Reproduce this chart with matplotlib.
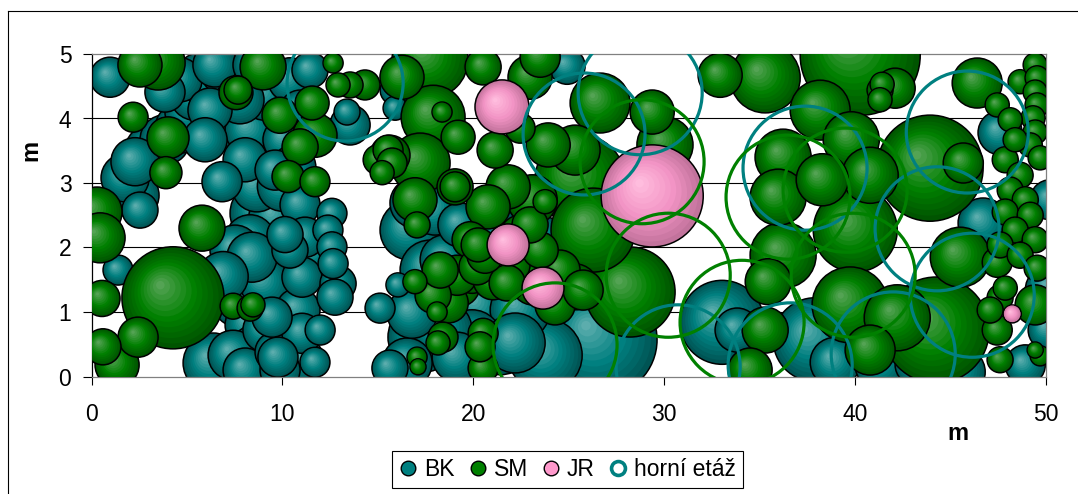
import numpy as np
import matplotlib
matplotlib.use("Agg")
import matplotlib.pyplot as plt
from matplotlib.lines import Line2D

plt.rcParams['font.family'] = ['Liberation Sans', 'DejaVu Sans']

# Tree positions on the plot (m) and crown diameters (m)
bk_x = [0.97, 2.28, 1.76, 2.28, 3.07, 3.85, 4.64, 5.16, 5.42, 5.69,
        4.64, 3.85, 6.47, 6.21, 5.95, 2.54, 1.39, 7.00, 7.78, 7.26,
        8.31, 8.05, 6.84, 8.67, 8.99, 8.31, 9.62, 10.14, 10.93, 10.40,
        9.09, 8.57, 11.45, 13.39, 10.93, 7.52, 8.05, 7.78, 8.31, 8.57,
        8.05, 9.09, 9.62, 6.37, 9.88, 7.42, 12.60, 12.39, 12.60, 12.66,
        12.92, 12.76, 11.56, 11.19, 11.03, 10.82, 11.03, 11.03, 9.77, 9.46,
        9.09, 8.41, 11.98, 11.71, 10.40, 10.14, 15.12, 15.64, 16.06, 17.37,
        18.63, 16.54, 19.16, 20.36, 21.41, 22.46, 18.53, 19.94, 18.37, 16.80,
        22.20, 16.95, 18.00, 16.69, 17.74, 19.31, 13.55, 15.91, 15.91, 24.92,
        23.77, 26.65, 33.04, 33.83, 37.92, 38.97, 41.32, 43.42, 45.52, 43.16,
        47.61, 46.72, 50.24, 50.13, 50.24, 48.93, 23.51, 21.15,
        10.00, 9.70, 10.60, 6.90]
bk_y = [4.64, 2.81, 3.08, 3.33, 3.51, 3.67, 3.85, 4.10, 4.36, 4.63,
        4.60, 4.41, 4.83, 4.13, 3.67, 2.58, 1.65, 4.75, 4.29, 3.90,
        3.82, 3.36, 3.02, 2.94, 2.53, 2.12, 3.20, 3.67, 4.13, 4.60,
        4.36, 4.83, 4.75, 4.10, 2.66, 1.96, 1.57, 1.19, 0.80, 0.41,
        0.10, 0.72, 0.38, 0.21, 0.10, 0.33, 2.53, 2.27, 2.01, 1.75,
        1.44, 1.23, 1.91, 2.16, 1.54, 1.03, 0.67, 0.26, 0.30, 0.92,
        1.45, 1.85, 0.72, 0.22, 1.96, 2.20, 1.06, 0.13, 1.42, 0.61,
        0.83, 0.21, 0.30, 1.08, 0.57, 1.03, 1.81, 0.57, 0.72, 0.98,
        0.52, 2.69, 2.58, 2.27, 1.65, 2.35, 3.90, 4.44, 4.16, 4.81,
        0.33, 0.57, 0.84, 0.72, 0.57, 0.22, 0.18, 0.02, 0.07, 0.18,
        3.78, 2.38, 1.34, 0.72, 2.74, 0.18, 2.11, 2.35,
        2.95, 2.45, 3.25, 1.55]
bk_d = [2.10, 2.52, 2.52, 2.52, 2.62, 2.62, 2.62, 2.62, 2.62, 2.62,
        2.31, 2.10, 2.31, 2.31, 2.31, 1.89, 1.57, 2.62, 2.52, 2.62,
        2.62, 2.31, 2.10, 2.62, 3.46, 2.62, 2.10, 2.31, 2.10, 2.31,
        2.62, 2.31, 1.89, 1.36, 2.10, 2.62, 2.94, 2.94, 2.62, 2.62,
        2.31, 2.31, 2.10, 3.14, 2.10, 2.62, 1.57, 1.57, 1.57, 1.57,
        1.89, 1.89, 2.10, 2.10, 2.10, 2.31, 2.10, 2.31, 2.10, 2.10,
        2.62, 2.62, 1.57, 1.57, 1.89, 1.89, 1.57, 1.89, 1.26, 3.67,
        3.67, 2.62, 2.62, 3.14, 3.67, 3.14, 2.62, 3.14, 3.14, 2.62,
        3.14, 2.62, 2.62, 3.14, 3.14, 2.31, 2.10, 1.57, 1.26, 1.89,
        3.88, 5.97, 4.40, 2.31, 4.40, 2.62, 2.62, 3.14, 2.62, 2.10,
        2.31, 2.62, 2.62, 2.10, 2.10, 2.10, 2.62, 2.10,
        2.62, 2.94, 2.31, 2.62]

sm_x = [3.49, 2.54, 2.18, 4.01, 3.90, 0.29, 0.45, 0.55, 4.27, 5.79,
        7.42, 8.46, 8.31, 1.34, 2.44, 0.60, 8.99, 7.57, 7.68, 12.66,
        12.92, 11.56, 9.88, 11.71, 10.93, 10.30, 11.71, 14.33, 13.55, 16.27,
        15.02, 15.54, 15.75, 15.23, 17.74, 20.52, 17.90, 18.37, 19.21, 17.22,
        19.05, 19.05, 16.95, 17.06, 19.84, 19.94, 18.69, 18.11, 20.52, 20.52,
        18.16, 17.06, 17.11, 17.90, 19.16, 18.42, 20.36, 20.20, 21.04, 21.78,
        18.27, 19.21, 16.95, 20.26, 15.64, 22.98, 23.51, 22.46, 21.15, 21.83,
        23.93, 23.09, 23.77, 20.78, 22.46, 20.62, 23.51, 23.14, 24.29, 24.55,
        22.98, 21.93, 25.34, 25.76, 26.28, 28.22, 26.65, 29.38, 30.05, 25.34,
        25.60, 32.94, 35.30, 40.28, 38.18, 41.32, 41.43, 41.32, 36.24, 35.98,
        38.29, 39.81, 40.02, 40.80, 43.94, 45.68, 36.24, 35.46, 35.30, 34.51,
        39.75, 45.52, 44.26, 42.22, 40.80, 46.41, 47.46, 42.11, 48.66, 49.45,
        49.55, 49.45, 49.55, 49.34, 49.45, 49.19, 49.71, 47.88, 48.66, 48.14,
        48.93, 47.88, 49.19, 48.40, 49.45, 47.61, 48.66, 49.55, 47.61, 47.09,
        47.88, 49.45, 47.46, 47.61, 49.45, 49.71, 48.14, 48.40, 47.46]
sm_y = [4.86, 4.83, 4.02, 3.70, 3.16, 2.55, 2.15, 1.21, 1.22, 2.30,
        1.09, 1.11, 1.06, 0.18, 0.61, 0.46, 4.80, 4.40, 4.44, 4.86,
        4.52, 4.24, 4.05, 3.74, 3.56, 3.10, 3.02, 4.52, 4.52, 4.64,
        3.36, 3.51, 3.31, 3.16, 4.91, 4.80, 4.02, 4.10, 3.71, 3.31,
        2.94, 2.94, 2.74, 2.35, 2.12, 1.60, 1.14, 1.00, 0.67, 0.13,
        0.52, 0.30, 0.15, 1.26, 1.57, 0.61, 0.46, 1.70, 1.50, 1.45,
        1.65, 1.42, 1.47, 2.04, 3.43, 4.64, 4.95, 3.85, 3.51, 2.94,
        3.59, 2.74, 2.71, 2.63, 2.19, 1.88, 1.96, 1.45, 1.11, 1.65,
        2.35, 1.73, 1.39, 1.34, 2.27, 1.31, 4.24, 4.10, 3.59, 3.51,
        3.05, 4.67, 4.63, 4.98, 4.13, 4.44, 4.53, 4.29, 3.40, 2.78,
        3.05, 3.67, 2.27, 3.12, 3.23, 3.31, 1.88, 1.47, 0.72, 0.10,
        1.11, 1.85, 0.72, 0.91, 0.41, 4.55, 4.21, 4.47, 4.57, 4.83,
        4.63, 4.41, 4.21, 4.01, 3.79, 3.59, 3.39, 3.36, 3.12, 2.89,
        2.74, 2.55, 2.50, 2.27, 2.12, 2.04, 1.88, 1.68, 1.22, 1.03,
        1.37, 1.11, 0.72, 0.26, 0.41, 0.32, 3.98, 3.67, 1.77]
sm_d = [2.83, 2.31, 1.57, 2.20, 1.68, 2.62, 2.62, 1.89, 5.35, 2.41,
        1.36, 1.26, 1.36, 2.31, 2.10, 1.89, 2.41, 1.78, 1.47, 1.05,
        1.26, 1.78, 1.89, 2.31, 1.89, 1.68, 1.57, 1.57, 1.36, 2.31,
        1.57, 1.57, 1.57, 1.26, 3.98, 1.89, 3.35, 1.05, 1.78, 3.14,
        1.89, 1.57, 2.31, 1.36, 1.89, 2.10, 2.10, 1.05, 1.57, 1.57,
        1.26, 1.05, 0.84, 1.89, 2.10, 1.57, 1.57, 1.89, 2.10, 1.89,
        1.89, 2.31, 1.26, 1.78, 2.10, 2.31, 2.10, 1.57, 1.89, 2.31,
        2.31, 2.62, 1.26, 2.31, 2.10, 1.89, 1.89, 2.31, 2.10, 2.10,
        1.89, 2.10, 2.41, 2.10, 4.40, 4.72, 3.14, 2.31, 2.94, 2.62,
        4.72, 2.31, 3.67, 6.29, 3.14, 1.36, 1.26, 1.26, 2.94, 2.94,
        2.73, 2.94, 4.40, 2.94, 5.56, 2.10, 3.46, 2.41, 2.41, 2.31,
        3.98, 3.14, 5.56, 3.46, 2.62, 2.62, 1.26, 2.10, 1.26, 1.26,
        1.26, 1.26, 1.26, 1.26, 1.26, 1.26, 1.26, 1.36, 1.36, 1.36,
        1.36, 1.36, 1.36, 1.36, 1.36, 1.36, 1.36, 1.36, 1.36, 1.36,
        1.26, 2.10, 1.57, 1.36, 0.84, 1.05, 1.26, 1.26, 1.57]

jr_x = [21.51, 21.83, 23.66, 29.38, 48.25]
jr_y = [4.18, 2.04, 1.37, 2.80, 0.97]
jr_d = [2.83, 2.20, 2.20, 5.35, 0.94]

# Upper storey crowns (outline only), species of each tree
up_x = [13.29, 28.75, 25.81, 37.39, 45.89, 44.31, 46.15, 42.01, 36.61, 30.74,
        28.85, 30.22, 24.29, 34.09, 36.50, 39.49, 39.91]
up_y = [4.55, 4.40, 3.76, 3.23, 3.79, 2.29, 1.26, 0.35, 0.18, 0.15,
        3.33, 1.57, 0.49, 0.84, 2.78, 2.89, 1.57]
up_d = [6.08, 6.50, 6.39, 6.50, 6.39, 6.50, 6.50, 6.50, 6.50, 6.50,
        6.50, 6.50, 6.50, 6.50, 6.50, 6.50, 6.50]
up_sp = ['BK'] * 10 + ['SM'] * 7

TEAL = '#008080'
GREEN = '#008000'
PINK = '#FF99CC'
shades = {
    'BK': [(0.0, 0.33, 0.33), (0.0, 0.50, 0.50), (0.36, 0.68, 0.68)],
    'SM': [(0.0, 0.33, 0.0), (0.0, 0.50, 0.0), (0.33, 0.64, 0.33)],
    'JR': [(0.76, 0.45, 0.61), (0.95, 0.58, 0.77), (1.0, 0.74, 0.87)],
}

W, H, DPI = 1078, 494, 100
fig = plt.figure(figsize=(W / DPI, H / DPI), dpi=DPI)
ax = fig.add_axes([91.5 / W, (H - 376.5) / H, (1045.7 - 91.5) / W, (376.5 - 54) / H])
ax.set_xlim(0, 50)
ax.set_ylim(0, 5)

ax.set_xticks([0, 10, 20, 30, 40, 50])
ax.set_yticks([0, 1, 2, 3, 4, 5])
ax.tick_params(axis='both', direction='out', labelsize=16.5, width=0.8, color='black')
ax.tick_params(axis='y', length=6.5, pad=8)
ax.tick_params(axis='x', length=6, pad=13)
for yv in [1, 2, 3, 4]:
    ax.axhline(yv, color='black', lw=0.8, zorder=0)
for s in ['top', 'right', 'bottom']:
    ax.spines[s].set_color('#808080')
    ax.spines[s].set_linewidth(0.9)
ax.spines['left'].set_color('black')
ax.spines['left'].set_linewidth(0.9)

px_x = ax.transData.transform((1, 0))[0] - ax.transData.transform((0, 0))[0]
px_y = ax.transData.transform((0, 1))[1] - ax.transData.transform((0, 0))[1]
pt = 72.0 / DPI


def shade(stops, t):
    e, b, h = [np.array(c) for c in stops]
    if t < 0.45:
        return tuple(e + (b - e) * (t / 0.45))
    return tuple(b + (h - b) * ((t - 0.45) / 0.55))


def draw_bubbles(xs, ys, ds, stops, z, n=12):
    px, py, ss, fc, ec, lw = [], [], [], [], [], []
    order = np.argsort(-np.asarray(ds), kind='stable')
    for i in order:
        r = ds[i] * px_x / 2.0
        for j in range(n):
            f = 1.0 - j / n
            sh = (1.0 - f) * 0.27 * r
            px.append(xs[i] - sh / px_x)
            py.append(ys[i] + sh / px_y)
            ss.append((2 * f * r * pt) ** 2)
            fc.append(shade(stops, j / (n - 1)))
            ec.append((0, 0, 0, 1) if j == 0 else (0, 0, 0, 0))
            lw.append(1.1 if j == 0 else 0.0)
    ax.scatter(px, py, s=ss, facecolors=fc, edgecolors=ec, linewidths=lw, zorder=z)


draw_bubbles(bk_x, bk_y, bk_d, shades['BK'], 2)
draw_bubbles(sm_x, sm_y, sm_d, shades['SM'], 3)
draw_bubbles(jr_x, jr_y, jr_d, shades['JR'], 4)

ring_col = [TEAL if s == 'BK' else GREEN for s in up_sp]
ax.scatter(up_x, up_y, s=[(d * px_x * pt) ** 2 for d in up_d], facecolors='none',
           edgecolors=ring_col, linewidths=2.3, zorder=5)

# axis titles
fig.text(31 / W, 1 - 150 / H, 'm', rotation=90, fontsize=17, fontweight='bold',
         ha='center', va='center')
fig.text(958 / W, 1 - 433 / H, 'm', fontsize=17, fontweight='bold',
         ha='center', va='center')

# legend
handles = [
    Line2D([], [], ls='none', marker='o', ms=10.5, mfc=TEAL, mec='black', mew=1.0),
    Line2D([], [], ls='none', marker='o', ms=10.5, mfc=GREEN, mec='black', mew=1.0),
    Line2D([], [], ls='none', marker='o', ms=10.5, mfc=PINK, mec='black', mew=1.0),
    Line2D([], [], ls='none', marker='o', ms=10, mfc='white', mec=TEAL, mew=2.6),
]
leg = fig.legend(handles, ['BK', 'SM', 'JR', 'horní etáž'], loc='center',
                 bbox_to_anchor=(567.5 / W, 1 - 469.5 / H), ncol=4, frameon=True,
                 fancybox=False, edgecolor='black', framealpha=1, fontsize=16.5,
                 handlelength=0.8, handletextpad=0.3, columnspacing=0.6,
                 borderpad=0.3, borderaxespad=0)
leg.get_frame().set_linewidth(0.8)

# chart area border
fig.add_artist(Line2D([8 / W, 8 / W], [1 - 11 / H, 0], color='black', lw=0.8,
                      transform=fig.transFigure))
fig.add_artist(Line2D([8 / W, 1], [1 - 11 / H, 1 - 11 / H], color='black', lw=0.8,
                      transform=fig.transFigure))

fig.savefig('out.png', dpi=DPI, facecolor='white')
